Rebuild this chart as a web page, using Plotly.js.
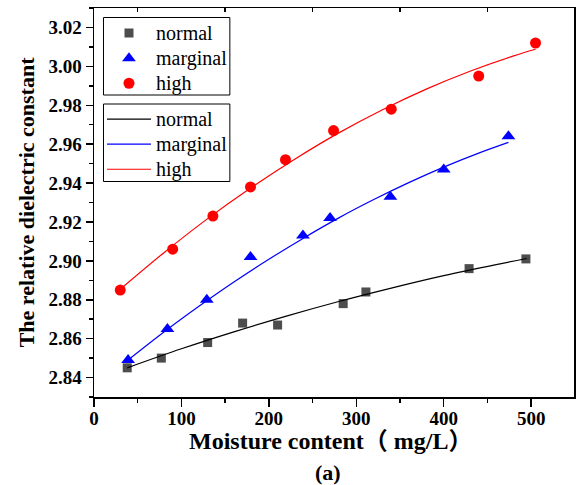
<!DOCTYPE html>
<html>
<head>
<meta charset="utf-8">
<script src="https://cdn.plot.ly/plotly-3.0.1.min.js"></script>
<style>html,body{margin:0;padding:0;background:#fff;}#chart{width:576px;height:485px;}</style>
</head>
<body>
<div id="chart"></div>
<script>
// Measured points
const normalX = [38, 77, 130, 170, 210, 285, 311, 429, 494];
const normalY = [2.845, 2.850, 2.858, 2.868, 2.867, 2.878, 2.884, 2.896, 2.901];
const marginalX = [39, 84, 129, 179, 239, 270, 339, 400, 474];
const marginalY = [2.849, 2.865, 2.880, 2.902, 2.913, 2.922, 2.933, 2.947, 2.964];
const highX = [30, 90, 136, 179, 219, 274, 340, 440, 505];
const highY = [2.885, 2.906, 2.923, 2.938, 2.952, 2.967, 2.978, 2.995, 3.012];

// Fitted curves
const normalFitX = [38, 100, 160, 220, 280, 340, 400, 460, 495];
const normalFitY = [2.845, 2.8548, 2.8635, 2.8716, 2.8791, 2.8860, 2.8924, 2.8981, 2.9012];
const marginalFitX = [39, 80, 120, 160, 200, 240, 280, 320, 360, 400, 440, 474];
const marginalFitY = [2.849, 2.8634, 2.8766, 2.8891, 2.9008, 2.9118, 2.9221, 2.9315, 2.9402, 2.9482, 2.9554, 2.9609];
const highFitX = [30, 80, 130, 180, 230, 280, 330, 380, 430, 480, 505];
const highFitY = [2.8854, 2.9042, 2.9217, 2.9377, 2.9524, 2.9658, 2.9777, 2.9883, 2.9975, 3.0054, 3.0088];

const seriesNames = ["normal", "marginal", "high"];
const topTicks = [50, 150, 250, 350, 450];
const xTitle = "Moisture content（ mg/L）";
const yTitle = "The relative dielectric constant";
const caption = "(a)";

const serif = "Liberation Serif, Times New Roman, Noto Sans CJK SC, serif";
const big = s => '<span style="font-size:20px">' + s + '</span>';

const traces = [
  {x: normalX, y: normalY, name: big(seriesNames[0]), mode: "markers", type: "scatter", legend: "legend",
   marker: {symbol: "square", size: 9, color: "#4d4d4d"}},
  {x: marginalX, y: marginalY, name: big(seriesNames[1]), mode: "markers", type: "scatter", legend: "legend",
   marker: {symbol: "triangle-up", size: 12, color: "#0000ff"}},
  {x: highX, y: highY, name: big(seriesNames[2]), mode: "markers", type: "scatter", legend: "legend",
   marker: {symbol: "circle", size: 11, color: "#ff0000"}},
  {x: normalFitX, y: normalFitY, name: big(seriesNames[0]), mode: "lines", type: "scatter", legend: "legend2",
   line: {color: "#000000", width: 1.2, shape: "spline"}},
  {x: marginalFitX, y: marginalFitY, name: big(seriesNames[1]), mode: "lines", type: "scatter", legend: "legend2",
   line: {color: "#0000ff", width: 1.2, shape: "spline"}},
  {x: highFitX, y: highFitY, name: big(seriesNames[2]), mode: "lines", type: "scatter", legend: "legend2",
   line: {color: "#ff0000", width: 1.2, shape: "spline"}},
  {x: [], y: [], xaxis: "x2", showlegend: false, type: "scatter"}
];

const tickFont = {family: serif, size: 19, color: "#000", weight: "bold"};
const legendFont = {family: serif, size: 17, color: "#000"};

// plot box pixel geometry helpers (layout only)
const L = 94, T = 8, W = 576 - 94 - 1.5, H = 485 - 8 - 88;
const px = v => (v - L) / W;
const py = v => 1 - (v - T) / H;

const layout = {
  width: 576, height: 485,
  margin: {l: 94, r: 1.5, t: 8, b: 88},
  paper_bgcolor: "#fff", plot_bgcolor: "#fff",
  showlegend: true,
  xaxis: {
    range: [0, 549], dtick: 100, tick0: 0,
    showgrid: false, zeroline: false,
    showline: true, linecolor: "#000", linewidth: 1.5, mirror: true,
    ticks: "outside", ticklen: 8, tickwidth: 1.5, tickcolor: "#000",
    ticklabelstandoff: -4,
    minor: {dtick: 50, ticks: "outside", ticklen: 4, tickwidth: 1.5, tickcolor: "#000", showgrid: false},
    tickfont: tickFont
  },
  xaxis2: {
    overlaying: "x", side: "top", range: [0, 549],
    tickmode: "array", tickvals: topTicks, showticklabels: false,
    ticks: "inside", ticklen: 4, tickwidth: 1.5, tickcolor: "#000",
    showgrid: false, zeroline: false, showline: false
  },
  yaxis: {
    range: [2.83, 3.03], dtick: 0.02, tick0: 0, tickformat: ".2f",
    showgrid: false, zeroline: false,
    showline: true, linecolor: "#000", linewidth: 1.5, mirror: true,
    ticks: "outside", ticklen: 7, tickwidth: 1.5, tickcolor: "#000",
    minor: {dtick: 0.01, ticks: "outside", ticklen: 4, tickwidth: 1.5, tickcolor: "#000", showgrid: false},
    tickfont: tickFont
  },
  legend: {
    x: px(102), y: py(15.5), xanchor: "left", yanchor: "top",
    borderwidth: 0, bgcolor: "rgba(0,0,0,0)",
    font: legendFont, tracegroupgap: 0, itemwidth: 44
  },
  legend2: {
    x: px(102), y: py(101.5), xanchor: "left", yanchor: "top",
    borderwidth: 0, bgcolor: "rgba(0,0,0,0)",
    font: legendFont, tracegroupgap: 0, itemwidth: 44
  },
  shapes: [
    {type: "rect", xref: "paper", yref: "paper", x0: px(103.5), x1: px(230), y0: py(17.5), y1: py(95),
     line: {color: "#000", width: 1}, fillcolor: "rgba(0,0,0,0)", layer: "above"},
    {type: "rect", xref: "paper", yref: "paper", x0: px(103.5), x1: px(230), y0: py(104), y1: py(181.5),
     line: {color: "#000", width: 1}, fillcolor: "rgba(0,0,0,0)", layer: "above"}
  ],
  annotations: [
    {text: xTitle, xref: "paper", yref: "paper", x: 0.493, y: -0.114, xanchor: "center", yanchor: "middle",
     showarrow: false, font: {family: serif, size: 24, color: "#000", weight: "bold"}},
    {text: caption, xref: "paper", yref: "paper", x: 0.488, y: -0.195, xanchor: "center", yanchor: "middle",
     showarrow: false, font: {family: serif, size: 22, color: "#000", weight: "bold"}},
    {text: yTitle, xref: "paper", yref: "paper", x: -0.14, y: 0.5, xanchor: "center", yanchor: "middle",
     textangle: -90, showarrow: false, font: {family: serif, size: 22, color: "#000", weight: "bold"}}
  ]
};

Plotly.newPlot("chart", traces, layout, {displayModeBar: false, staticPlot: true});
</script>
</body>
</html>
